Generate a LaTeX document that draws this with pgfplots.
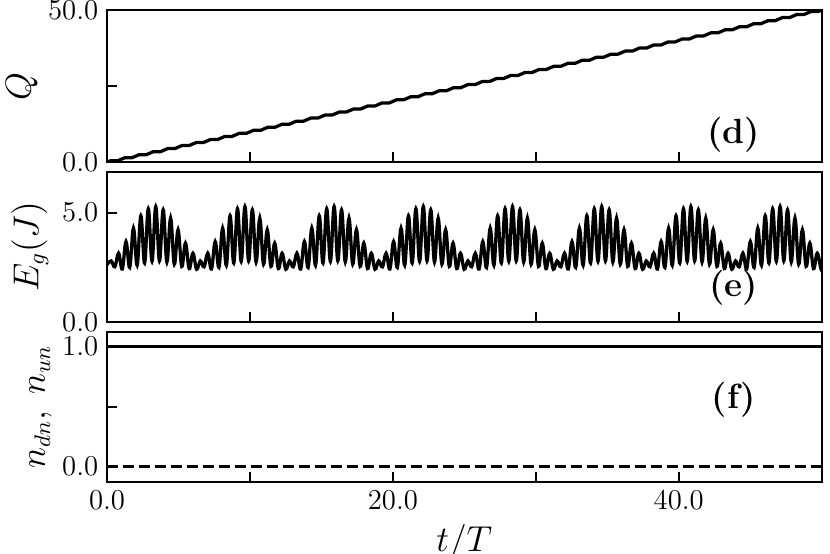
\documentclass[border=0pt]{standalone}
\usepackage{pgfplots}
\pgfplotsset{compat=1.18}
\usepackage{pgfplotstable}

\pgfplotstableread{
t E
0.00 2.62
0.29 2.80
0.55 2.53
0.81 3.15
1.07 2.43
1.33 3.68
1.59 2.50
1.85 4.29
2.11 2.60
2.37 4.86
2.63 2.70
2.89 5.18
3.15 2.78
3.41 5.28
3.67 2.80
3.93 5.13
4.19 2.75
4.45 4.75
4.71 2.65
4.97 4.22
5.23 2.55
5.49 3.61
5.75 2.45
6.01 3.15
6.27 2.42
6.53 2.80
6.79 2.53
7.05 3.15
7.31 2.43
7.57 3.68
7.83 2.50
8.09 4.29
8.35 2.60
8.61 4.86
8.87 2.70
9.13 5.18
9.39 2.78
9.65 5.28
9.91 2.80
10.17 5.13
10.43 2.75
10.69 4.75
10.95 2.65
11.21 4.22
11.47 2.55
11.73 3.61
11.99 2.45
12.25 3.15
12.51 2.42
12.77 2.80
13.03 2.53
13.29 3.15
13.55 2.43
13.81 3.68
14.07 2.50
14.33 4.29
14.59 2.60
14.85 4.86
15.11 2.70
15.37 5.18
15.63 2.78
15.89 5.28
16.15 2.80
16.41 5.13
16.67 2.75
16.93 4.75
17.19 2.65
17.45 4.22
17.71 2.55
17.97 3.61
18.23 2.45
18.49 3.15
18.75 2.42
19.01 2.80
19.27 2.53
19.53 3.15
19.79 2.43
20.05 3.68
20.31 2.50
20.57 4.29
20.83 2.60
21.09 4.86
21.35 2.70
21.61 5.18
21.87 2.78
22.13 5.28
22.39 2.80
22.65 5.13
22.91 2.75
23.17 4.75
23.43 2.65
23.69 4.22
23.95 2.55
24.21 3.61
24.47 2.45
24.73 3.15
24.99 2.42
25.25 2.80
25.51 2.53
25.77 3.15
26.03 2.43
26.29 3.68
26.55 2.50
26.81 4.29
27.07 2.60
27.33 4.86
27.59 2.70
27.85 5.18
28.11 2.78
28.37 5.28
28.63 2.80
28.89 5.13
29.15 2.75
29.41 4.75
29.67 2.65
29.93 4.22
30.19 2.55
30.45 3.61
30.71 2.45
30.97 3.15
31.23 2.42
31.49 2.80
31.75 2.53
32.01 3.15
32.27 2.43
32.53 3.68
32.79 2.50
33.05 4.29
33.31 2.60
33.57 4.86
33.83 2.70
34.09 5.18
34.35 2.78
34.61 5.28
34.87 2.80
35.13 5.13
35.39 2.75
35.65 4.75
35.91 2.65
36.17 4.22
36.43 2.55
36.69 3.61
36.95 2.45
37.21 3.15
37.47 2.42
37.73 2.80
37.99 2.53
38.25 3.15
38.51 2.43
38.77 3.68
39.03 2.50
39.29 4.29
39.55 2.60
39.81 4.86
40.07 2.70
40.33 5.18
40.59 2.78
40.85 5.28
41.11 2.80
41.37 5.13
41.63 2.75
41.89 4.75
42.15 2.65
42.41 4.22
42.67 2.55
42.93 3.61
43.19 2.45
43.45 3.15
43.71 2.42
43.97 2.80
44.23 2.53
44.49 3.15
44.75 2.43
45.01 3.68
45.27 2.50
45.53 4.29
45.79 2.60
46.05 4.86
46.31 2.70
46.57 5.18
46.83 2.78
47.09 5.28
47.35 2.80
47.61 5.13
47.87 2.75
48.13 4.75
48.39 2.65
48.65 4.22
48.91 2.55
49.17 3.61
49.43 2.45
49.69 3.15
49.95 2.42
50.00 2.50
}\Egdata

\pgfplotstableread{
t Q
0.00 0.00
0.25 0.50
0.75 0.50
1.25 1.50
1.75 1.50
2.25 2.50
2.75 2.50
3.25 3.50
3.75 3.50
4.25 4.50
4.75 4.50
5.25 5.50
5.75 5.50
6.25 6.50
6.75 6.50
7.25 7.50
7.75 7.50
8.25 8.50
8.75 8.50
9.25 9.50
9.75 9.50
10.25 10.50
10.75 10.50
11.25 11.50
11.75 11.50
12.25 12.50
12.75 12.50
13.25 13.50
13.75 13.50
14.25 14.50
14.75 14.50
15.25 15.50
15.75 15.50
16.25 16.50
16.75 16.50
17.25 17.50
17.75 17.50
18.25 18.50
18.75 18.50
19.25 19.50
19.75 19.50
20.25 20.50
20.75 20.50
21.25 21.50
21.75 21.50
22.25 22.50
22.75 22.50
23.25 23.50
23.75 23.50
24.25 24.50
24.75 24.50
25.25 25.50
25.75 25.50
26.25 26.50
26.75 26.50
27.25 27.50
27.75 27.50
28.25 28.50
28.75 28.50
29.25 29.50
29.75 29.50
30.25 30.50
30.75 30.50
31.25 31.50
31.75 31.50
32.25 32.50
32.75 32.50
33.25 33.50
33.75 33.50
34.25 34.50
34.75 34.50
35.25 35.50
35.75 35.50
36.25 36.50
36.75 36.50
37.25 37.50
37.75 37.50
38.25 38.50
38.75 38.50
39.25 39.50
39.75 39.50
40.25 40.50
40.75 40.50
41.25 41.50
41.75 41.50
42.25 42.50
42.75 42.50
43.25 43.50
43.75 43.50
44.25 44.50
44.75 44.50
45.25 45.50
45.75 45.50
46.25 46.50
46.75 46.50
47.25 47.50
47.75 47.50
48.25 48.50
48.75 48.50
49.25 49.50
49.75 49.50
50.00 50.00
}\Qdata

\tikzset{plabel/.style={font=\fontsize{14}{16}\selectfont\bfseries, anchor=center}}

\pgfplotsset{
  panel/.style={
    scale only axis,
    width=285.88pt,
    xmin=0, xmax=50,
    xtick={0,10,20,30,40,50},
    xtick pos=bottom, ytick pos=left,
    tick align=inside,
    major tick length=4pt,
    minor tick num=0,
    axis line style={line width=0.8pt},
    every tick/.style={line width=0.8pt, black},
    ticklabel style={font=\fontsize{11.5}{13}\selectfont},
    label style={font=\fontsize{13.5}{15}\selectfont},
  },
  curve/.style={black, line width=1.3pt, no markers},
}

\begin{document}
\begin{tikzpicture}
\path[use as bounding box] (0,0) rectangle (332pt,221.6pt);

% (d)
\begin{axis}[panel,
  at={(42.8pt,156.68pt)}, anchor=south west,
  height=60.92pt,
  ymin=0, ymax=50,
  ytick={0,25,50}, yticklabels={0.0,,50.0},
  xticklabels={},
  ylabel={$Q$},
  ylabel style={at={(axis description cs:-0.119,0.5)}, anchor=center},
]
\addplot[curve, smooth, tension=0.5] table[x=t, y=Q] {\Qdata};
\node[plabel] at (axis description cs:0.877,0.18) {(d)};
\end{axis}

% (e)
\begin{axis}[panel,
  at={(42.8pt,92.68pt)}, anchor=south west,
  height=60.24pt,
  ymin=0, ymax=6.87,
  ytick={0,5}, yticklabels={0.0,5.0},
  xticklabels={},
  ylabel={$E_g(J)$},
  ylabel style={at={(axis description cs:-0.108,0.5)}, anchor=center},
]
\addplot[curve, smooth, tension=0.65] table[x=t, y=E] {\Egdata};
\node[plabel] at (axis description cs:0.877,0.228) {(e)};
\end{axis}

% (f)
\begin{axis}[panel,
  at={(42.8pt,28.92pt)}, anchor=south west,
  height=60pt,
  ymin=-0.125, ymax=1.125,
  ytick={0,0.5,1}, yticklabels={0.0,,1.0},
  xticklabels={0.0,,20.0,,40.0,},
  xlabel={$t/T$},
  xlabel style={at={(axis description cs:0.5,-0.468)}, anchor=base},
  ylabel={$n_{dn},\;n_{un}$},
  ylabel style={at={(axis description cs:-0.093,0.5)}, anchor=center},
]
\addplot[curve] coordinates {(0,1) (50,1)};
\addplot[black, line width=1.3pt, dash pattern=on 4.4pt off 2pt] coordinates {(0,0) (50,0)};
\node[plabel] at (axis description cs:0.877,0.546) {(f)};
\end{axis}
\end{tikzpicture}
\end{document}
